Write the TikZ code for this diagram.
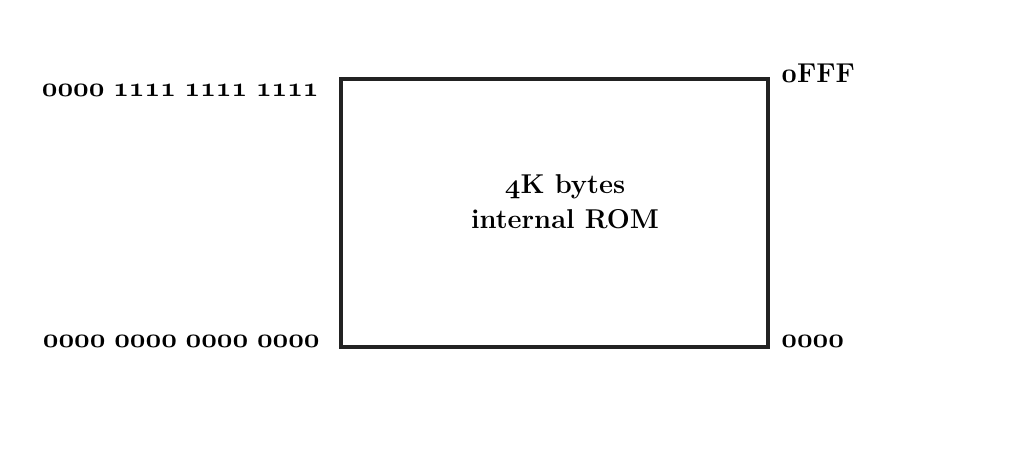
\documentclass[tikz,border=0pt]{standalone}
\usepackage{fix-cm}
\usepackage{tikz}
\usetikzlibrary{positioning}
\definecolor{boxline}{RGB}{34, 34, 34}
\newcommand{\osn}[1]{{\usefont{OML}{cmm}{b}{it}#1}}
\newcommand{\gap}{\hspace{0.32em}}

\begin{document}
\begin{tikzpicture}[addr/.style={font=\fontsize{15.5}{18}\selectfont\bfseries, inner sep=0pt},
    romblock/.style={draw=boxline, line width=2.3pt, minimum width=8.54cm, minimum height=5.36cm, inner sep=0pt}]
    \useasboundingbox (0,0) rectangle (20.42,9.24);

    \node[romblock] (rom) at (11.09,4.98) {};
    \node[addr, align=center] (romtext) at (11.30,5.20) {\osn{4}K bytes\\[2pt]internal ROM};

    \node[addr, anchor=base east] (hitop) at (6.38,7.30) {\osn{0000}\gap\osn{1111}\gap\osn{1111}\gap\osn{1111}};
    \node[addr, anchor=base east] (lotop) at (6.40,2.28) {\osn{0000}\gap\osn{0000}\gap\osn{0000}\gap\osn{0000}};

    \node[addr, anchor=base west] (hiend) at (15.62,7.58) {\osn{0}FFF};
    \node[addr, anchor=base west] (loend) at (15.62,2.28) {\osn{0000}};
\end{tikzpicture}
\end{document}
